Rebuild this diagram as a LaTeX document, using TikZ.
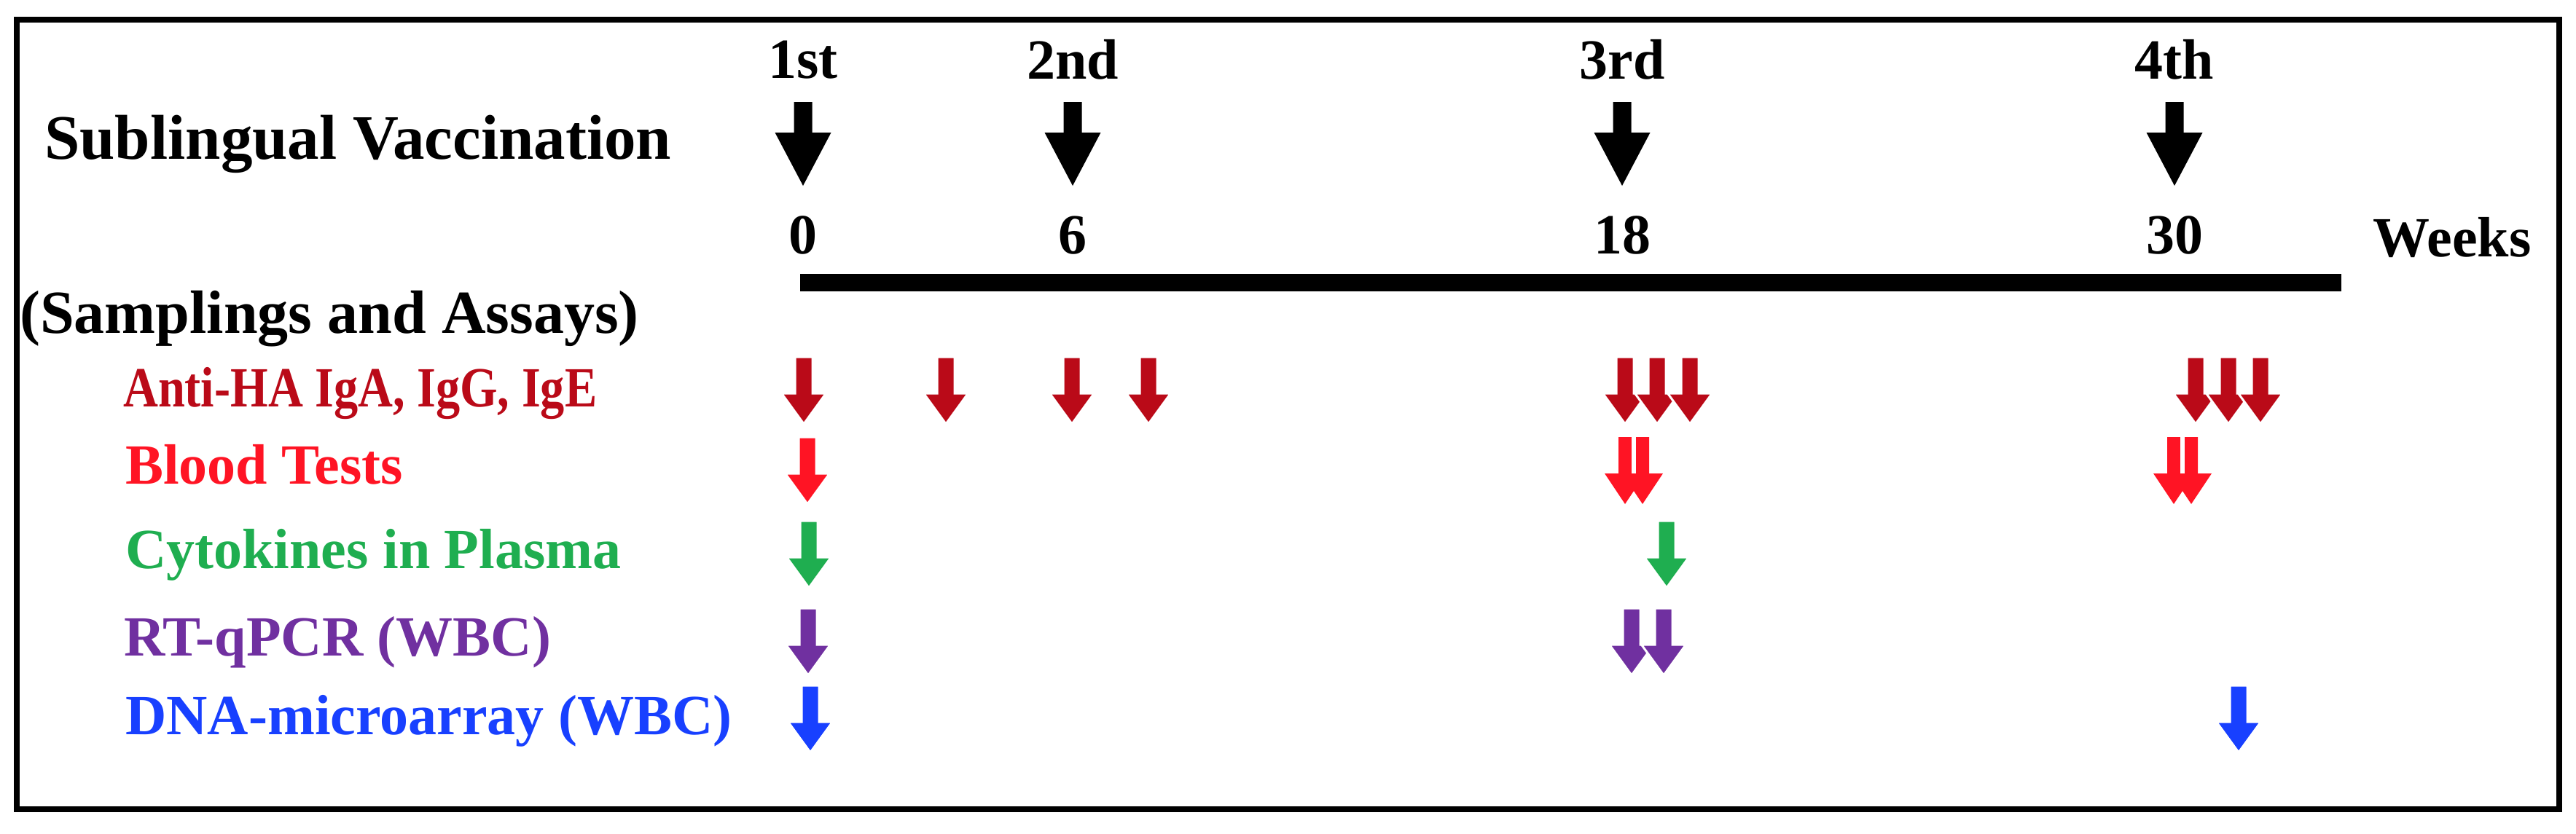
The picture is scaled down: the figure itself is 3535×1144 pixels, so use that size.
\documentclass[tikz,border=0pt]{standalone}
\usepackage{fontspec}
\setmainfont{Liberation Serif}
\definecolor{cdred}{HTML}{BA0A18}
\definecolor{cred}{HTML}{FF1424}
\definecolor{cgreen}{HTML}{1FAE50}
\definecolor{cpurple}{HTML}{7030A0}
\definecolor{cblue}{HTML}{1840FF}
\begin{document}
\begin{tikzpicture}[x=1pt,y=-1pt,
  small/.pic={\filldraw[draw=white, line width=3pt] (-12,0) -- (12,0) -- (12,50) -- (30.5,50) -- (0,92) -- (-30.5,50) -- (-12,50) -- cycle;},
  thin/.pic={\fill (-9,0) -- (9,0) -- (9,50) -- (28,50) -- (0,92) -- (-28,50) -- (-9,50) -- cycle;},
  big/.pic={\fill (-12.5,0) -- (12.5,0) -- (12.5,42) -- (38.5,42) -- (0,115) -- (-38.5,42) -- (-12.5,42) -- cycle;},
  ttl/.style={font=\bfseries\fontsize{78}{90}\selectfont, inner sep=0pt},
  lbl/.style={font=\bfseries\fontsize{78}{90}\selectfont, inner sep=0pt, anchor=west}]
\useasboundingbox (0,0) rectangle (3535,1144);
\draw[line width=8pt] (23,27) rectangle (3512,1111);
\node[ttl, anchor=west, font=\bfseries\fontsize{87}{96}\selectfont] (sv) at (61,198) {Sublingual Vaccination};
\node[ttl, anchor=west, font=\bfseries\fontsize{84}{96}\selectfont] (sa) at (27,438) {(Samplings and Assays)};
\coordinate (a0) at (1098,388);
\coordinate (a1) at (3213,388);
\draw[line width=24pt] (a0) -- (a1);
\foreach \x/\o/\n in {1102/1st/0, 1472/2nd/6, 2226/3rd/18, 2984/4th/30}{
  \node[ttl] (o\n) at (\x,82) {\o};
  \pic[black] at (\x,140) {big};
  \node[ttl] (n\n) at (\x,323) {\n};
}
\node[ttl] (wk) at (3365,326) {Weeks};
\node[lbl, text=cdred, xscale=0.85] (l1) at (169,540) {Anti-HA IgA, IgG, IgE};
\node[lbl, text=cred] (l2) at (172,638) {Blood Tests};
\node[lbl, text=cgreen] (l3) at (172,762) {Cytokines in Plasma};
\node[lbl, text=cpurple] (l4) at (170,882) {RT-qPCR (WBC)};
\node[lbl, text=cblue] (l5) at (172,990) {DNA-microarray (WBC)};
\foreach \x in {1103,1298,1471,1576,2230,2274,2319,3013,3058,3102}{\pic[cdred] at (\x,490) {small};}
\pic[cred] at (1108,600) {small};
\foreach \x in {2230,2254,2983,3007}{\pic[cred] at (\x,600) {thin};}
\fill[white] (2239,598) rectangle (2245,650);
\fill[white] (2992,598) rectangle (2998,650);
\foreach \x in {1110,2287}{\pic[cgreen] at (\x,715) {small};}
\foreach \x in {1109,2239,2283}{\pic[cpurple] at (\x,835) {small};}
\foreach \x in {1112,3072}{\pic[cblue] at (\x,941) {small};}
\end{tikzpicture}
\end{document}
